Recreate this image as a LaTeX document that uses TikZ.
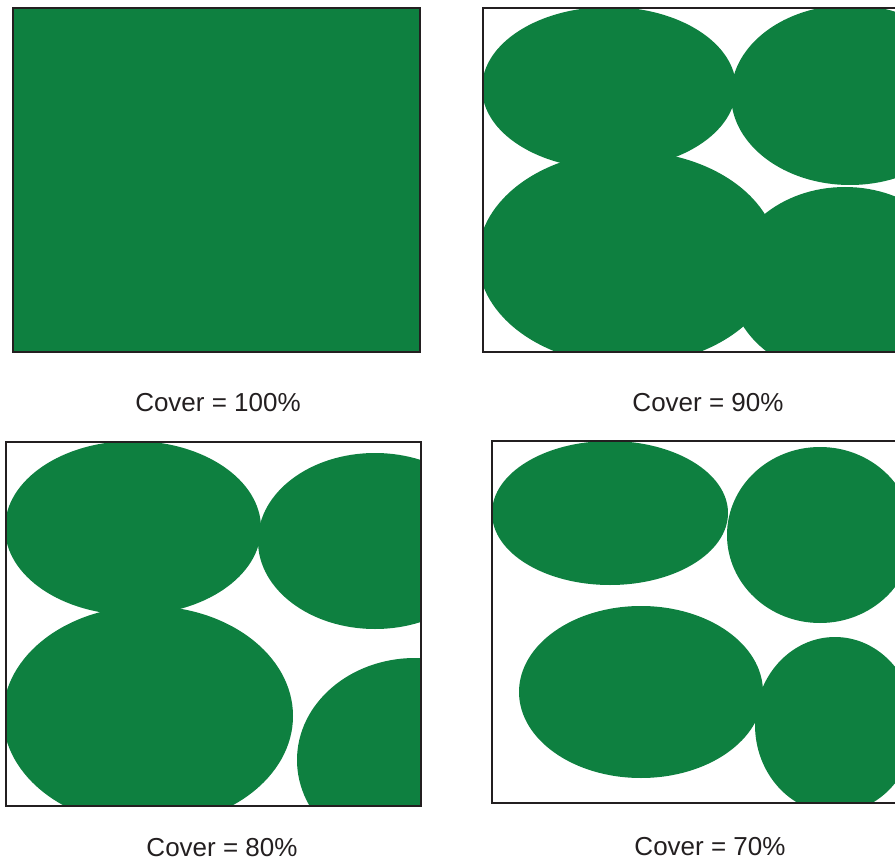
\documentclass[tikz,border=0pt]{standalone}
\usepackage{fontspec}
\setmainfont{Liberation Sans}
\usepackage{xcolor}
\usepackage{tikz}
\definecolor{coverGreen}{RGB}{14,128,64}
\definecolor{frameGray}{RGB}{35,31,32}

\begin{document}
\begin{tikzpicture}[x=1pt,y=-1pt,
  frame/.style={draw=frameGray, line width=1.6pt},
  caption/.style={text=frameGray, font=\fontsize{26}{30}\selectfont}]
\useasboundingbox (0,0) rectangle (895,861);

% cover = 100%
\fill[coverGreen] (13,8) rectangle (420,352);
\draw[frame] (13,8) rectangle (420,352);
\node[caption] (cap100) at (218,403) {Cover = 100\%};

% cover = 90%
\begin{scope}
\clip (483,8) rectangle (898,352);
\foreach \cx/\cy/\rx/\ry in {609/88/127/81, 850/95/119/90, 628/258/150/107, 845/282/115/95} {
  \fill[coverGreen] (\cx,\cy) ellipse [x radius=\rx, y radius=\ry];
}
\end{scope}
\draw[frame] (483,8) rectangle (898,352);
\node[caption] (cap90) at (708,403) {Cover = 90\%};

% cover = 80%
\begin{scope}
\clip (6,442) rectangle (421,806);
\foreach \cx/\cy/\rx/\ry in {133/528/128/87, 375/541/117/88, 148/716/145/110, 415/760/118/102} {
  \fill[coverGreen] (\cx,\cy) ellipse [x radius=\rx, y radius=\ry];
}
\end{scope}
\draw[frame] (6,442) rectangle (421,806);
\node[caption] (cap80) at (222,848) {Cover = 80\%};

% cover = 70%
\begin{scope}
\clip (492,441) rectangle (898,803);
\foreach \cx/\cy/\rx/\ry in {610/513/118/72, 820/535/93/88, 641/692/122/86, 835/725/80/88} {
  \fill[coverGreen] (\cx,\cy) ellipse [x radius=\rx, y radius=\ry];
}
\end{scope}
\draw[frame] (492,441) rectangle (898,803);
\node[caption] (cap70) at (710,847) {Cover = 70\%};
\end{tikzpicture}
\end{document}
